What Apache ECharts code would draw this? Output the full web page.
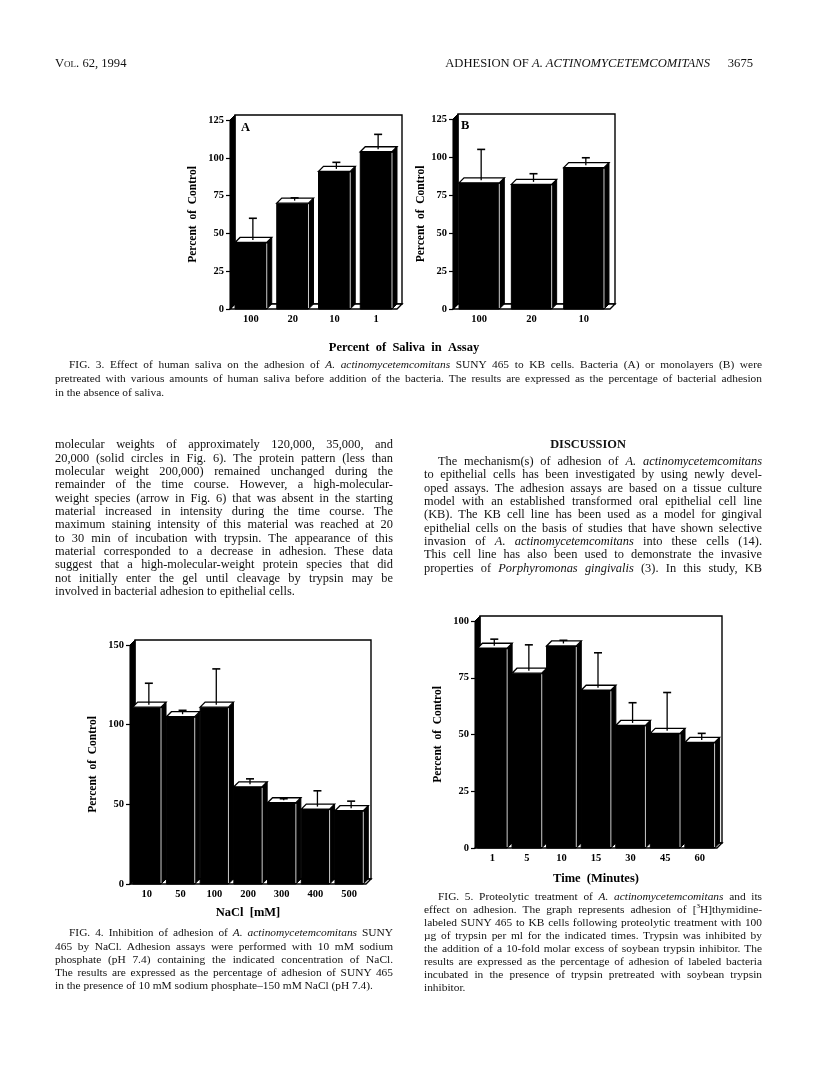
<!DOCTYPE html>
<html>
<head>
<meta charset="utf-8">
<script src="https://cdn.jsdelivr.net/npm/echarts@6/dist/echarts.min.js"></script>
<style>
  body { margin: 0; background: #fff; }
  #page { position: relative; width: 816px; height: 1081px; background: #fff; overflow: hidden; }
  #chart { position: absolute; left: 0; top: 0; width: 816px; height: 1081px; }
  .ln { position: absolute; font-family: 'Liberation Serif', 'Times New Roman', serif; color: #111; text-align: justify; text-align-last: justify; overflow: visible; }
  .ln.last { text-align-last: left; }
  .hd { position: absolute; font-family: 'Liberation Serif', 'Times New Roman', serif; color: #111; font-size: 12.6px; line-height: 14px; white-space: nowrap; }
</style>
</head>
<body>
<div id="page">
  <div id="chart"></div>
  <div class="hd" style="left:55px;top:56px;font-variant:small-caps;">Vol. 62, 1994</div>
  <div class="hd" style="right:106px;top:56px;">ADHESION OF <i>A. ACTINOMYCETEMCOMITANS</i></div>
  <div class="hd" style="right:63px;top:56px;">3675</div>
  <div class="hd" style="left:588px;top:437px;transform:translateX(-50%);font-weight:bold;font-size:12.4px;">DISCUSSION</div>
</div>
<script>
// ---------------- data ----------------
const fig3Categories = ['100', '20', '10', '1'];
const fig3AValues = [44, 70, 91, 104];
const fig3AErrors = [16, 3.5, 6, 11.5];

const fig3BCategories = ['100', '20', '10'];
const fig3BValues = [83, 82, 93];
const fig3BErrors = [22, 7, 6.5];

const fig4Categories = ['10', '50', '100', '200', '300', '400', '500'];
const fig4Values = [111, 105, 111, 61, 51, 47, 46];
const fig4Errors = [15, 4, 24, 5, 2.5, 11.5, 6];

const fig5Categories = ['1', '5', '10', '15', '30', '45', '60'];
const fig5Values = [88, 77, 89, 69.5, 54, 50.5, 46.5];
const fig5Errors = [4, 12.5, 2.5, 16.5, 10, 18, 4];

const fig3ATicks = { min: 0, max: 125, interval: 25 };
const fig3BTicks = { min: 0, max: 125, interval: 25 };
const fig4Ticks = { min: 0, max: 150, interval: 50 };
const fig5Ticks = { min: 0, max: 100, interval: 25 };

// ---------------- drawing helpers ----------------
const FONT = "'Liberation Serif', 'Times New Roman', serif";
const D = 5;

function frameRender(params, api) {
  const cs = params.coordSys;
  const x0 = cs.x, yT = cs.y, w = cs.width, h = cs.height;
  const y0 = yT + h, xR = x0 + w;
  return {
    type: 'group',
    children: [
      { type: 'rect', shape: { x: x0 + D, y: yT - D, width: w, height: h }, style: { fill: '#fff', stroke: '#000', lineWidth: 1.4 } },
      { type: 'polygon', shape: { points: [[x0, yT], [x0 + D, yT - D], [x0 + D, y0 - D], [x0, y0]] }, style: { fill: '#000', stroke: '#000', lineWidth: 1 } },
      { type: 'polygon', shape: { points: [[x0, y0], [x0 + D, y0 - D], [xR + D, y0 - D], [xR, y0]] }, style: { fill: '#fff', stroke: '#000', lineWidth: 1.4 } }
    ]
  };
}

function barRender(ratio) {
  return function (params, api) {
    const idx = api.value(0), v = api.value(1), e = api.value(2);
    const top = api.coord([idx, v]);
    const base = api.coord([idx, 0]);
    const errPt = api.coord([idx, v + e]);
    const bw = api.size([1, 0])[0] * ratio;
    const x1 = top[0] - bw / 2, x2 = top[0] + bw / 2;
    const yv = top[1], y0 = base[1];
    const ex = top[0] + 2;
    return {
      type: 'group',
      children: [
        { type: 'polygon', shape: { points: [[x2, yv], [x2 + D, yv - D], [x2 + D, y0 - D], [x2, y0]] }, style: { fill: '#000', stroke: '#000', lineWidth: 1 } },
        { type: 'rect', shape: { x: x1, y: yv, width: bw, height: y0 - yv }, style: { fill: '#000', stroke: '#000', lineWidth: 1 } },
        { type: 'line', shape: { x1: x2, y1: yv + 1, x2: x2, y2: y0 - 1 }, style: { stroke: '#fff', lineWidth: 0.8 } },
        { type: 'polygon', shape: { points: [[x1, yv], [x1 + D, yv - D], [x2 + D, yv - D], [x2, yv]] }, style: { fill: '#fff', stroke: '#000', lineWidth: 1.3 } },
        { type: 'line', shape: { x1: ex, y1: yv - D / 2, x2: ex, y2: errPt[1] }, style: { stroke: '#000', lineWidth: 1.3 } },
        { type: 'line', shape: { x1: ex - 4, y1: errPt[1], x2: ex + 4, y2: errPt[1] }, style: { stroke: '#000', lineWidth: 1.6 } }
      ]
    };
  };
}

function yAxisCfg(gi, ticks, nameGap) {
  return {
    gridIndex: gi, type: 'value', min: ticks.min, max: ticks.max, interval: ticks.interval,
    axisLine: { show: true, lineStyle: { color: '#000', width: 1.2 } },
    axisTick: { show: true, length: 4, lineStyle: { color: '#000', width: 1.2 } },
    axisLabel: { color: '#000', fontFamily: FONT, fontWeight: 'bold', fontSize: 10.5, margin: 6 },
    splitLine: { show: false },
    name: 'Percent  of  Control', nameLocation: 'middle', nameGap: nameGap, nameRotate: 90,
    nameTextStyle: { color: '#000', fontFamily: FONT, fontWeight: 'bold', fontSize: 11.5 }
  };
}

function xAxisCfg(gi, cats, name, nameGap) {
  const cfg = {
    gridIndex: gi, type: 'category', data: cats,
    axisLine: { show: false }, axisTick: { show: false },
    axisLabel: { color: '#000', fontFamily: FONT, fontWeight: 'bold', fontSize: 10.5, margin: 5, interval: 0 },
    splitLine: { show: false }
  };
  if (name) {
    cfg.name = name; cfg.nameLocation = 'middle'; cfg.nameGap = nameGap;
    cfg.nameTextStyle = { color: '#000', fontFamily: FONT, fontWeight: 'bold', fontSize: 12.5 };
  }
  return cfg;
}

function pack(vals, errs) { return vals.map((v, i) => [i, v, errs[i]]); }

const option = {
  animation: false,
  backgroundColor: 'transparent',
  grid: [
    { left: 230, top: 120, width: 167, height: 189 },
    { left: 453, top: 119, width: 157, height: 190 },
    { left: 130, top: 645, width: 236, height: 239 },
    { left: 475, top: 621, width: 242, height: 227 }
  ],
  xAxis: [
    xAxisCfg(0, fig3Categories),
    xAxisCfg(1, fig3BCategories),
    xAxisCfg(2, fig4Categories, 'NaCl  [mM]', 22),
    xAxisCfg(3, fig5Categories, 'Time  (Minutes)', 24)
  ],
  yAxis: [
    yAxisCfg(0, fig3ATicks, 31),
    yAxisCfg(1, fig3BTicks, 24),
    yAxisCfg(2, fig4Ticks, 31),
    yAxisCfg(3, fig5Ticks, 31)
  ],
  graphic: [
    { type: 'text', left: 241, top: 121, style: { text: 'A', font: 'bold 12.5px ' + FONT, fill: '#000' }, z: 10 },
    { type: 'text', left: 461, top: 119, style: { text: 'B', font: 'bold 12.5px ' + FONT, fill: '#000' }, z: 10 },
    { type: 'text', x: 404, y: 348, style: { text: 'Percent  of  Saliva  in  Assay', font: 'bold 12.5px ' + FONT, fill: '#000', textAlign: 'center', textVerticalAlign: 'middle' } }
  ],
  series: []
};

const sets = [
  [fig3AValues, fig3AErrors, 0.76],
  [fig3BValues, fig3BErrors, 0.77],
  [fig4Values, fig4Errors, 0.84],
  [fig5Values, fig5Errors, 0.86]
];
sets.forEach((s, gi) => {
  option.series.push({
    type: 'custom', xAxisIndex: gi, yAxisIndex: gi, clip: false, z: 1, silent: true,
    data: [[0, 0, 0]], encode: { x: 0, y: 1 }, renderItem: frameRender
  });
  option.series.push({
    type: 'custom', xAxisIndex: gi, yAxisIndex: gi, clip: false, z: 3, silent: true,
    data: pack(s[0], s[1]), encode: { x: 0, y: 1 }, renderItem: barRender(s[2])
  });
});

const chart = echarts.init(document.getElementById('chart'));
chart.setOption(option);

// ---------------- page text ----------------
const fig3Caption = [
  'FIG. 3. Effect of human saliva on the adhesion of <i>A. actinomycetemcomitans</i> SUNY 465 to KB cells. Bacteria (A) or monolayers (B) were',
  'pretreated with various amounts of human saliva before addition of the bacteria. The results are expressed as the percentage of bacterial adhesion',
  'in the absence of saliva.'
];
const leftText = [
  'molecular weights of approximately 120,000, 35,000, and',
  '20,000 (solid circles in Fig. 6). The protein pattern (less than',
  'molecular weight 200,000) remained unchanged during the',
  'remainder of the time course. However, a high-molecular-',
  'weight species (arrow in Fig. 6) that was absent in the starting',
  'material increased in intensity during the time course. The',
  'maximum staining intensity of this material was reached at 20',
  'to 30 min of incubation with trypsin. The appearance of this',
  'material corresponded to a decrease in adhesion. These data',
  'suggest that a high-molecular-weight protein species that did',
  'not initially enter the gel until cleavage by trypsin may be',
  'involved in bacterial adhesion to epithelial cells.'
];
const rightText = [
  'The mechanism(s) of adhesion of <i>A. actinomycetemcomitans</i>',
  'to epithelial cells has been investigated by using newly devel-',
  'oped assays. The adhesion assays are based on a tissue culture',
  'model with an established transformed oral epithelial cell line',
  '(KB). The KB cell line has been used as a model for gingival',
  'epithelial cells on the basis of studies that have shown selective',
  'invasion of <i>A. actinomycetemcomitans</i> into these cells (14).',
  'This cell line has also been used to demonstrate the invasive',
  'properties of <i>Porphyromonas gingivalis</i> (3). In this study, KB'
];
const fig4Caption = [
  'FIG. 4. Inhibition of adhesion of <i>A. actinomycetemcomitans</i> SUNY',
  '465 by NaCl. Adhesion assays were performed with 10 mM sodium',
  'phosphate (pH 7.4) containing the indicated concentration of NaCl.',
  'The results are expressed as the percentage of adhesion of SUNY 465',
  'in the presence of 10 mM sodium phosphate\u2013150 mM NaCl (pH 7.4).'
];
const fig5Caption = [
  'FIG. 5. Proteolytic treatment of <i>A. actinomycetemcomitans</i> and its',
  'effect on adhesion. The graph represents adhesion of [<sup style="font-size:7px;line-height:0">3</sup>H]thymidine-',
  'labeled SUNY 465 to KB cells following proteolytic treatment with 100',
  '\u00b5g of trypsin per ml for the indicated times. Trypsin was inhibited by',
  'the addition of a 10-fold molar excess of soybean trypsin inhibitor. The',
  'results are expressed as the percentage of adhesion of labeled bacteria',
  'incubated in the presence of trypsin pretreated with soybean trypsin',
  'inhibitor.'
];

const page = document.getElementById('page');
function placeLines(lines, x, width, yc, lh, fs, opts) {
  opts = opts || {};
  lines.forEach((t, i) => {
    const d = document.createElement('div');
    const indent = (i === 0 && opts.indent) ? opts.indent : 0;
    d.className = 'ln' + ((opts.lastLeft && i === lines.length - 1) ? ' last' : '');
    d.style.left = (x + indent) + 'px';
    d.style.width = (width - indent) + 'px';
    d.style.top = (yc + i * lh - lh / 2) + 'px';
    d.style.lineHeight = lh + 'px';
    d.style.fontSize = fs + 'px';
    d.innerHTML = t;
    page.appendChild(d);
    let f = fs;
    while (d.offsetHeight > lh * 1.5 && f > 8) {
      f -= 0.1;
      d.style.fontSize = f + 'px';
    }
  });
}
placeLines(fig3Caption, 55, 707, 364, 14, 11.4, { indent: 14, lastLeft: true });
placeLines(leftText, 55, 338, 445, 13.33, 12.4, { lastLeft: true });
placeLines(rightText, 424, 338, 461.7, 13.33, 12.4, { indent: 14 });
placeLines(fig4Caption, 55, 338, 933, 13.2, 11.4, { indent: 14, lastLeft: true });
placeLines(fig5Caption, 424, 338, 896, 13, 11.4, { indent: 14, lastLeft: true });
</script>
</body>
</html>
